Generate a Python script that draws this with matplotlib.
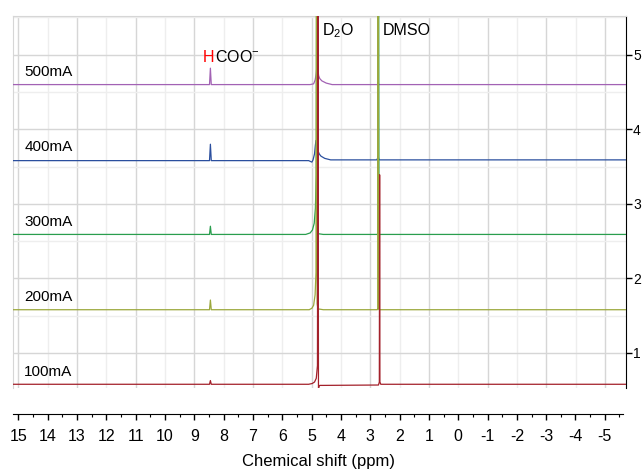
import numpy as np
import matplotlib
matplotlib.use("Agg")
import matplotlib.pyplot as plt
from matplotlib.ticker import FixedLocator, MultipleLocator

plt.rcParams['font.family'] = ['Liberation Sans', 'DejaVu Sans']
plt.rcParams['mathtext.fontset'] = 'custom'
plt.rcParams['mathtext.rm'] = 'Liberation Sans'
plt.rcParams['mathtext.it'] = 'Liberation Sans:italic'
plt.rcParams['axes.unicode_minus'] = False

# spectra: current label, vertical offset, trace vertices (ppm, intensity above baseline)
labels = ["100mA", "200mA", "300mA", "400mA", "500mA"]
offsets = [0.58, 1.58, 2.59, 3.59, 4.60]
colors = ["#A3202A", "#9BA83C", "#2A9E4E", "#2B4F9E", "#A262B4"]

ppm_100 = [15.18, 8.48, 8.45, 8.42, 5.10, 4.98, 4.90, 4.84, 4.80, 4.78, 4.765, 4.75, 4.72, 4.60,
           2.72, 2.69, 2.68, 2.67, 2.64, 2.55, -5.72]
int_100 = [0, 0, 0.05, 0, 0, 0.01, 0.03, 0.08, 0.25, 5.5, -0.09, -0.03, -0.015, -0.015,
           -0.01, 0.03, 2.81, 0.03, 0, 0, 0]

ppm_200 = [15.18, 8.48, 8.45, 8.42, 5.08, 4.99, 4.93, 4.88, 4.85, 4.83, 4.81, 4.79, 4.76, 4.60,
           2.76, 2.74, 2.73, 2.72, 2.70, 2.60, -5.72]
int_200 = [0, 0, 0.13, 0, 0, 0.02, 0.06, 0.20, 0.50, 6.0, 0.08, 0.03, 0.01, 0,
           0, 0.02, 6.0, 0.02, 0, 0, 0]

ppm_300 = [15.18, 8.48, 8.45, 8.42, 5.20, 5.05, 4.97, 4.91, 4.87, 4.84, 4.82, 4.80, 4.78, 4.60,
           2.76, 2.74, 2.72, 2.70, 2.68, 2.60, -5.72]
int_300 = [0, 0, 0.11, 0, 0, 0.02, 0.06, 0.15, 0.35, 0.80, 6.0, 0.03, 0.01, 0,
           0, 0.02, 6.0, 0.02, 0, 0, 0]

ppm_400 = [15.18, 8.48, 8.45, 8.42, 5.10, 4.99, 4.95, 4.90, 4.87, 4.85, 4.82, 4.78, 4.74, 4.68,
           4.55, 4.35, 2.78, 2.75, 2.73, 2.71, 2.68, -5.72]
int_400 = [-0.01, -0.01, 0.21, -0.01, -0.01, -0.03, 0.0, 0.08, 0.20, 0.26, 0.22, 0.12, 0.08, 0.05,
           0.02, 0, 0, 0.02, 0.05, 0.01, 0, 0]

ppm_500 = [15.18, 8.48, 8.45, 8.42, 5.05, 4.93, 4.88, 4.84, 4.81, 4.79, 4.76, 4.72, 4.65, 4.50,
           4.30, 2.75, 2.73, 2.71, -5.72]
int_500 = [0, 0, 0.22, 0, 0, 0.01, 0.06, 0.15, 0.28, 0.22, 0.12, 0.08, 0.05, 0.02,
           0, 0, 0.03, 0, 0]

traces = [(ppm_100, int_100), (ppm_200, int_200), (ppm_300, int_300),
          (ppm_400, int_400), (ppm_500, int_500)]

fig = plt.figure(figsize=(6.44, 4.72), dpi=100)
ax = fig.add_axes([13 / 644, 1 - 388 / 472, 613 / 644, 372 / 472])

# top spectrum first so the 100mA trace ends up on top
for i in reversed(range(len(traces))):
    ppm, inten = traces[i]
    ax.plot(ppm, np.array(inten) + offsets[i], color=colors[i], lw=0.9, zorder=3)
    ax.text(14.8, offsets[i] + 0.17, labels[i], fontsize=11, ha='left', va='center', zorder=4)

ax.set_xlim(15.18, -5.72)
ax.set_ylim(0.53, 5.52)

# grid: darker at odd ppm / integer y, lighter in between
ax.xaxis.set_major_locator(FixedLocator(np.arange(15, -6, -2)))
ax.xaxis.set_minor_locator(MultipleLocator(1))
ax.yaxis.set_major_locator(FixedLocator([1, 2, 3, 4, 5]))
ax.yaxis.set_minor_locator(MultipleLocator(0.5))
ax.grid(which='major', color='#D6D6D6', lw=1.0, zorder=0)
ax.grid(which='minor', color='#EEEEEE', lw=1.0, zorder=0)
ax.tick_params(axis='x', which='both', length=0, labelbottom=False)
ax.yaxis.tick_right()
ax.tick_params(axis='y', which='major', direction='out', length=4, width=1, labelsize=10, pad=1)
ax.tick_params(axis='y', which='minor', length=0)
ax.spines['bottom'].set_visible(False)
ax.spines['left'].set_color('#D6D6D6')
ax.spines['top'].set_color('#D6D6D6')
ax.spines['right'].set_color('black')

# peak annotations
ax.text(4.64, 5.33, "D$_2$O", fontsize=11.5, ha='left', va='center', zorder=5)
ax.text(2.57, 5.33, "DMSO", fontsize=11.5, ha='left', va='center', zorder=5)
h = ax.text(8.70, 4.90, "H", fontsize=11.5, color='red', ha='left', va='baseline', zorder=5)
ax.annotate("COO$^{-}$", xy=(1, 0), xycoords=h, fontsize=11.5, ha='left', va='bottom', zorder=5)

# separate ppm scale below the spectra
axb = fig.add_axes([13 / 644, 1 - 414 / 472, 610 / 644, 0.001])
axb.set_xlim(15.18, -5.62)
axb.set_ylim(0, 1)
for s in ['top', 'left', 'right']:
    axb.spines[s].set_visible(False)
axb.set_yticks([])
axb.xaxis.set_minor_locator(MultipleLocator(0.5))
axb.tick_params(axis='x', which='major', direction='out', length=4, width=1, labelsize=11.5, pad=7)
axb.tick_params(axis='x', which='minor', direction='out', length=2, width=0.8)
axb.set_xticks(np.arange(15, -6, -1))
axb.set_xticklabels([str(v) for v in range(15, -6, -1)])
axb.set_xlabel("Chemical shift (ppm)", fontsize=12, labelpad=7)
axb.patch.set_visible(False)

fig.savefig("out.png", dpi=100)
